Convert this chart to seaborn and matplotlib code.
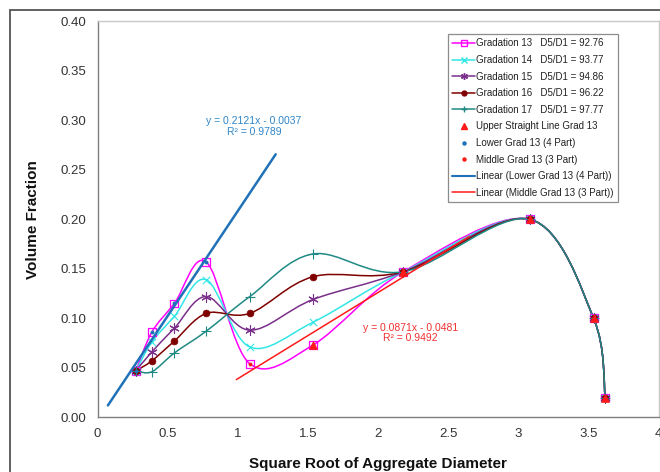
import numpy as np
import pandas as pd
import matplotlib
matplotlib.use("Agg")
import matplotlib.pyplot as plt
import seaborn as sns
from matplotlib.path import Path
from matplotlib.patches import PathPatch, Rectangle
from matplotlib.lines import Line2D
from matplotlib.ticker import MultipleLocator, FuncFormatter

sns.set_style("white")
plt.rcParams['font.family'] = ['Liberation Sans', 'DejaVu Sans']

# ---------------- data ----------------
sqrt_d = [0.274, 0.387, 0.548, 0.775, 1.086, 1.536, 2.179, 3.082, 3.536, 3.619]
grad13 = [0.047, 0.086, 0.115, 0.157, 0.054, 0.073, 0.147, 0.200, 0.100, 0.020]
grad14 = [0.047, 0.076, 0.102, 0.139, 0.071, 0.096, 0.147, 0.200, 0.100, 0.020]
grad15 = [0.047, 0.066, 0.090, 0.122, 0.088, 0.119, 0.147, 0.200, 0.100, 0.020]
grad16 = [0.047, 0.057, 0.077, 0.105, 0.105, 0.142, 0.147, 0.200, 0.100, 0.020]
grad17 = [0.047, 0.046, 0.065, 0.087, 0.122, 0.165, 0.147, 0.200, 0.100, 0.020]
series_names = ["Gradation 13", "Gradation 14", "Gradation 15", "Gradation 16", "Gradation 17"]
d5d1 = ["92.76", "93.77", "94.86", "96.22", "97.77"]

upper_x = [1.536, 2.179, 3.082, 3.536, 3.619]
upper_y = [0.073, 0.147, 0.200, 0.100, 0.020]
lower_x = [0.274, 0.387, 0.548, 0.775]
lower_y = [0.047, 0.086, 0.115, 0.157]
middle_x = [1.086, 1.536, 2.179]
middle_y = [0.054, 0.073, 0.147]

lower_fit = (0.2121, -0.0037)
lower_fit_range = [0.074, 1.27]
middle_fit = (0.0871, -0.0481)
middle_fit_range = [0.99, 2.65]
lower_eq = "y = 0.2121x - 0.0037\nR² = 0.9789"
middle_eq = "y = 0.0871x - 0.0481\nR² = 0.9492"

# ---------------- styles ----------------
colors = ["#ff00ff", "#33e6e6", "#7a2f8a", "#7f0000", "#1f8a84"]
markers = ["s", "x", (6, 2, 0), "o", "+"]
msizes = [32, 28, 48, 24, 42]
blue = "#1f72b8"
red = "#ff1a1a"


def smooth_path(xs, ys):
    """Excel-style smoothed line rendered as cubic Bezier segments."""
    pts = np.column_stack([xs, ys]).astype(float)
    n = len(pts)
    verts = [pts[0]]
    codes = [Path.MOVETO]
    for i in range(n - 1):
        p0 = pts[i - 1] if i > 0 else pts[i]
        p1 = pts[i]
        p2 = pts[i + 1]
        p3 = pts[i + 2] if i + 2 < n else pts[i + 1]
        c1 = p1 + (p2 - p0) / 6.0
        c2 = p2 - (p3 - p1) / 6.0
        verts += [c1, c2, p2]
        codes += [Path.CURVE4] * 3
    return Path(verts, codes)


fig = plt.figure(figsize=(6.6, 4.72), dpi=100)
fig.patch.set_facecolor("white")
# outer chart-area frame (extends past right and bottom edges)
top = 1 - 10 / 472
fig.add_artist(Rectangle((10 / 660, -0.2), 1.2, top + 0.2,
                         transform=fig.transFigure, fill=False,
                         edgecolor="#555555", lw=1.3))

ax = fig.add_axes([97.5 / 660, 1 - 417.3 / 472, (658.7 - 97.5) / 660, (417.3 - 21.3) / 472])
ax.set_facecolor("white")

all_grads = [grad13, grad14, grad15, grad16, grad17]
for ys, c, m, s in zip(all_grads, colors, markers, msizes):
    ax.add_patch(PathPatch(smooth_path(sqrt_d, ys), fill=False, edgecolor=c, lw=1.1, zorder=2))
    if m == "s":
        sns.scatterplot(x=sqrt_d, y=ys, marker=m, s=s, facecolor="none", edgecolor=c,
                        linewidth=0.9, ax=ax, zorder=3, legend=False)
    elif m == "o":
        sns.scatterplot(x=sqrt_d, y=ys, marker=m, s=s, color=c, edgecolor=c,
                        linewidth=0.5, ax=ax, zorder=3, legend=False)
    else:
        sns.scatterplot(x=sqrt_d, y=ys, marker=m, s=s, color=c, linewidth=0.8,
                        ax=ax, zorder=3, legend=False)

# trend lines
lx = np.array(lower_fit_range)
sns.lineplot(x=lx, y=lower_fit[0] * lx + lower_fit[1], color=blue, lw=1.8, ax=ax, zorder=4)
mx = np.array(middle_fit_range)
sns.lineplot(x=mx, y=middle_fit[0] * mx + middle_fit[1], color=red, lw=1.1, ax=ax, zorder=4)

# extra point series
sns.scatterplot(x=upper_x, y=upper_y, marker="^", s=32, color=red, edgecolor=red,
                linewidth=0.5, ax=ax, zorder=5, legend=False)
sns.scatterplot(x=lower_x, y=lower_y, marker="o", s=8, color=blue, edgecolor=blue,
                linewidth=0, ax=ax, zorder=5, legend=False)
sns.scatterplot(x=middle_x, y=middle_y, marker="o", s=8, color=red, edgecolor=red,
                linewidth=0, ax=ax, zorder=5, legend=False)

ax.text(1.115, 0.294, lower_eq, color="#2f85c8", fontsize=7.5, ha="center", va="center",
        linespacing=1.1)
ax.text(2.231, 0.0852, middle_eq, color="#f03030", fontsize=7.5, ha="center", va="center",
        linespacing=1.1)

# axes formatting
ax.set_xlim(0, 4)
ax.set_ylim(0, 0.4)
ax.xaxis.set_major_locator(MultipleLocator(0.5))
ax.xaxis.set_minor_locator(MultipleLocator(0.1))
ax.yaxis.set_major_locator(MultipleLocator(0.05))
ax.yaxis.set_minor_locator(MultipleLocator(0.01))
ax.xaxis.set_major_formatter(FuncFormatter(lambda v, p: f"{v:g}"))
ax.yaxis.set_major_formatter(FuncFormatter(lambda v, p: f"{v:.2f}"))
ax.tick_params(which="major", direction="out", length=4, width=0.8, color="#7f7f7f",
               labelsize=9.5, labelcolor="#333333", pad=4)
ax.tick_params(which="minor", direction="in", length=3, width=0.6, color="#7f7f7f")
for side in ["left", "bottom"]:
    ax.spines[side].set_color("#7f7f7f")
    ax.spines[side].set_linewidth(1.0)
for side in ["top", "right"]:
    ax.spines[side].set_color("#c8c8c8")
    ax.spines[side].set_linewidth(1.0)

ax.set_xlabel("Square Root of Aggregate Diameter", fontsize=11, fontweight="bold",
              color="#111111", labelpad=12)
ax.set_ylabel("Volume Fraction", fontsize=11, fontweight="bold", color="#111111", labelpad=15)

# legend
handles = []
labels = []
for name, d, c, m in zip(series_names, d5d1, colors, markers):
    if m == "s":
        h = Line2D([], [], color=c, lw=1.1, marker=m, ms=4, mfc="none", mec=c)
    elif m == "o":
        h = Line2D([], [], color=c, lw=1.1, marker=m, ms=3.5, mfc=c, mec=c)
    else:
        h = Line2D([], [], color=c, lw=1.1, marker=m, ms=5, mec=c)
    handles.append(h)
    labels.append(f"{name}   D5/D1 = {d}")
handles += [
    Line2D([], [], ls="none", marker="^", ms=4.5, color=red),
    Line2D([], [], ls="none", marker="o", ms=2.2, color=blue),
    Line2D([], [], ls="none", marker="o", ms=2.2, color=red),
    Line2D([], [], color=blue, lw=1.5),
    Line2D([], [], color=red, lw=1.1),
]
labels += ["Upper Straight Line Grad 13", "Lower Grad 13 (4 Part)", "Middle Grad 13 (3 Part)",
           "Linear (Lower Grad 13 (4 Part))", "Linear (Middle Grad 13 (3 Part))"]
leg = ax.legend(handles, labels, loc="upper left",
                bbox_to_anchor=((448 - 97.5) / 561.2, (417.3 - 34) / 396),
                borderaxespad=0, fontsize=7, frameon=True, fancybox=False,
                edgecolor="#8c8c8c", framealpha=1, handlelength=2.3, handletextpad=0.15,
                labelspacing=0.68, borderpad=0.45)
leg.get_frame().set_linewidth(0.9)
for t in leg.get_texts():
    t.set_color("#222222")

fig.savefig("out.png", dpi=100)
